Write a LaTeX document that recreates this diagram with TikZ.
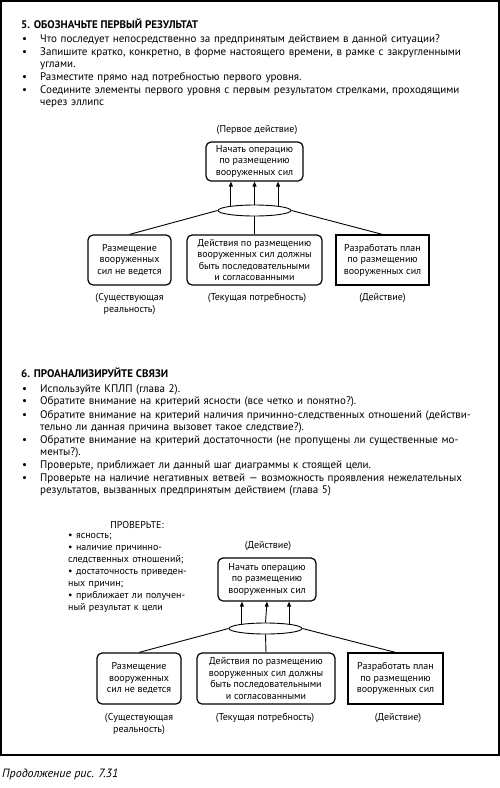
\documentclass[tikz,border=0pt]{standalone}
\usepackage{fontspec}
\setmainfont{PT Sans}
\usetikzlibrary{shapes.geometric,arrows.meta}

% one justified line of a bullet
\newcommand{\fullline}[1]{\makebox[440pt][s]{#1}}

\begin{document}
\begin{tikzpicture}[x=1pt, y=-1pt, >={Triangle[length=5pt,width=4pt]},
  heading/.style={anchor=base west, inner sep=0pt, font=\bfseries\fontsize{11}{12}\selectfont},
  bullet/.style={anchor=base west, inner sep=0pt, font=\fontsize{11}{12}\selectfont},
  itemtext/.style={anchor=base west, inner sep=0pt, text width=440pt, align=left, font=\fontsize{11}{12}\selectfont},
  result/.style={rectangle, rounded corners=5pt, draw, line width=1.2pt, align=center, inner sep=1pt, font=\fontsize{10}{11.5}\selectfont},
  action/.style={rectangle, draw, line width=1.2pt, align=center, inner sep=1pt, font=\fontsize{10}{11.5}\selectfont},
  junction/.style={ellipse, draw, line width=0.9pt, minimum width=73pt, minimum height=11pt, inner sep=0pt},
  role/.style={align=center, inner sep=0pt, font=\fontsize{10}{12}\selectfont},
  link/.style={line width=0.9pt}]

\useasboundingbox (0,0) rectangle (500,788);
\draw[line width=1.5pt] (1,1) rectangle (499,755);

% section 5
\node[heading] (h5) at (21,28) {5. ОБОЗНАЧЬТЕ ПЕРВЫЙ РЕЗУЛЬТАТ};
\node[bullet] (d51) at (22,42) {•};
\node[itemtext] (t51) at (40,42) {Что последует непосредственно за предпринятым действием в данной ситуации?};
\node[bullet] (d52) at (22,55.5) {•};
\node[itemtext] (t52) at (40,55.5) {\fullline{Запишите кратко, конкретно, в форме настоящего времени, в рамке с закругленными}\\углами.};
\node[bullet] (d53) at (22,80) {•};
\node[itemtext] (t53) at (40,80) {Разместите прямо над потребностью первого уровня.};
\node[bullet] (d54) at (22,93) {•};
\node[itemtext] (t54) at (40,93) {\fullline{Соедините элементы первого уровня с первым результатом стрелками, проходящими}\\через эллипс};

% first diagram
\node[role] (lab1) at (257,130) {(Первое действие)};
\node[result, minimum width=97pt, minimum height=39pt] (start1) at (254.5,161.5) {Начать операцию\\по размещению\\вооруженных сил};
\node[junction] (and1) at (254.5,210.5) {};
\node[result, minimum width=83pt, minimum height=50pt] (real1) at (129.5,260) {Размещение\\вооруженных\\сил не ведется};
\node[result, minimum width=135pt, minimum height=50pt] (need1) at (254.5,260) {Действия по размещению\\вооруженных сил должны\\быть последовательными\\и согласованными};
\node[action, minimum width=93pt, minimum height=50pt] (act1) at (382.5,260) {Разработать план\\по размещению\\вооруженных сил};
\node[role] (rl1) at (129.5,304) {(Существующая\\реальность)};
\node[role] (nl1) at (257,298) {(Текущая потребность)};
\node[role] (al1) at (382.5,298) {(Действие)};

\draw[link] (real1.north) -- (and1.west);
\draw[link] (need1.north) -- (and1.south);
\draw[link] (act1.north) -- (and1.east);
\draw[link,->] (and1.169) -- (and1.169 |- start1.south);
\draw[link,->] (and1.north) -- (start1.south);
\draw[link,->] (and1.11) -- (and1.11 |- start1.south);

% section 6
\node[heading] (h6) at (21,377) {6. ПРОАНАЛИЗИРУЙТЕ СВЯЗИ};
\node[bullet] (d61) at (22,392) {•};
\node[itemtext] (t61) at (40,392) {Используйте КПЛП (глава 2).};
\node[bullet] (d62) at (22,404.5) {•};
\node[itemtext] (t62) at (40,404.5) {Обратите внимание на критерий ясности (все четко и понятно?).};
\node[bullet] (d63) at (22,418) {•};
\node[itemtext] (t63) at (40,418) {\fullline{Обратите внимание на критерий наличия причинно-следственных отношений (действи-}\\тельно ли данная причина вызовет такое следствие?).};
\node[bullet] (d64) at (22,443) {•};
\node[itemtext] (t64) at (40,443) {\fullline{Обратите внимание на критерий достаточности (не пропущены ли существенные мо-}\\менты?).};
\node[bullet] (d65) at (22,468.5) {•};
\node[itemtext] (t65) at (40,468.5) {Проверьте, приближает ли данный шаг диаграммы к стоящей цели.};
\node[bullet] (d66) at (22,481) {•};
\node[itemtext] (t66) at (40,481) {\fullline{Проверьте на наличие негативных ветвей — возможность проявления нежелательных}\\результатов, вызванных предпринятым действием (глава 5)};

% second diagram
\node[role] (chk) at (137,525) {ПРОВЕРЬТЕ:};
\node[anchor=base west, inner sep=0pt, text width=130pt, align=left, font=\fontsize{10}{12}\selectfont] (chklist) at (68,538.5)
  {• ясность;\\• наличие причинно-\\следственных отношений;\\• достаточность приведен-\\ных причин;\\• приближает ли получен-\\ный результат к цели};
\node[role] (lab2) at (268,546) {(Действие)};
\node[result, minimum width=98pt, minimum height=43pt] (start2) at (267,579.5) {Начать операцию\\по размещению\\вооруженных сил};
\node[junction] (and2) at (265.5,628.5) {};
\node[result, minimum width=84pt, minimum height=51pt] (real2) at (139,678.5) {Размещение\\вооруженных\\сил не ведется};
\node[result, minimum width=138pt, minimum height=51pt] (need2) at (266,678.5) {Действия по размещению\\вооруженных сил должны\\быть последовательными\\и согласованными};
\node[action, minimum width=95pt, minimum height=51pt] (act2) at (395.5,678.5) {Разработать план\\по размещению\\вооруженных сил};
\node[role] (rl2) at (139,724) {(Существующая\\реальность)};
\node[role] (nl2) at (265,718) {(Текущая потребность)};
\node[role] (al2) at (398,718) {(Действие)};

\draw[link] (real2.north) -- (and2.west);
\draw[link] (need2.north) -- (and2.south);
\draw[link] (act2.north) -- (and2.east);
\draw[link,->] (and2.169) -- (and2.169 |- start2.south);
\draw[link,->] (and2.north) -- (start2.south);
\draw[link,->] (and2.11) -- (and2.11 |- start2.south);

\node[anchor=base west, inner sep=0pt, font=\itshape\fontsize{12}{14}\selectfont] (capt) at (2,777) {Продолжение рис. 7.31};
\end{tikzpicture}
\end{document}
